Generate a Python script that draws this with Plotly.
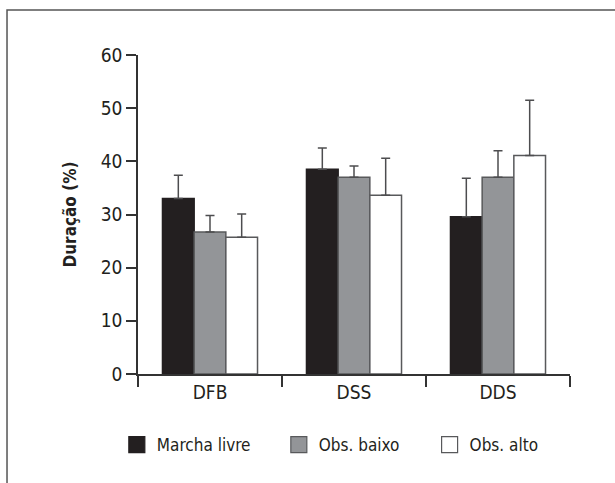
import plotly.graph_objects as go

categories = ["DFB", "DSS", "DDS"]
series_names = ["Marcha livre", "Obs. baixo", "Obs. alto"]
marcha_livre = [33.0, 38.5, 29.6]
obs_baixo = [26.7, 37.0, 37.0]
obs_alto = [25.7, 33.6, 41.1]
err_marcha_livre = [4.4, 4.0, 7.2]
err_obs_baixo = [3.1, 2.1, 5.0]
err_obs_alto = [4.4, 7.0, 10.4]
y_ticks = [0, 10, 20, 30, 40, 50, 60]

FONT = "DejaVu Sans Condensed, sans-serif"
EDGE = "#58595b"
TXT = "#231f20"
fills = ["#231f20", "#939598", "#ffffff"]
values = [marcha_livre, obs_baixo, obs_alto]
errors = [err_marcha_livre, err_obs_baixo, err_obs_alto]
legend_ids = ["legend", "legend2", "legend3"]
legend_x = [-0.049, 0.326, 0.675]

fig = go.Figure()
for name, vals, errs, fill in zip(series_names, values, errors, fills):
    fig.add_trace(go.Bar(
        x=categories, y=vals, name=name, showlegend=False,
        marker=dict(color=fill, line=dict(color=EDGE if fill != TXT else fill, width=1.5)),
        error_y=dict(type="data", array=errs, arrayminus=[0] * len(errs), symmetric=False,
                     color="#4d4d4f", thickness=1.5, width=4.5),
    ))

# legend-only entries (larger square swatches)
for name, fill, lid in zip(series_names, fills, legend_ids):
    fig.add_trace(go.Scatter(
        x=[None], y=[None], mode="markers", name=name, legend=lid, showlegend=True,
        marker=dict(symbol="square", size=16, color=fill,
                    line=dict(color=EDGE if fill != TXT else fill, width=1.2)),
    ))

leg_common = dict(orientation="h", y=-0.2226, yanchor="middle", xanchor="left",
                  font=dict(family=FONT, size=17, color=TXT), itemsizing="trace",
                  bgcolor="rgba(0,0,0,0)", borderwidth=0)

fig.update_layout(
    width=615, height=483,
    margin=dict(l=138, r=45, t=55, b=109),
    paper_bgcolor="white", plot_bgcolor="white",
    barmode="group", bargap=0.34, bargroupgap=0,
    font=dict(family=FONT, size=19, color=TXT),
    legend=dict(x=legend_x[0], **leg_common),
    legend2=dict(x=legend_x[1], **leg_common),
    legend3=dict(x=legend_x[2], **leg_common),
    xaxis=dict(showline=True, linecolor="#333333", linewidth=1.5, ticks="outside",
               tickson="boundaries", ticklen=11, tickwidth=1.5, tickcolor="#333333",
               showgrid=False, tickfont=dict(family=FONT, size=19, color=TXT)),
    yaxis=dict(range=[0, 60], tickvals=y_ticks, showline=True, linecolor="#333333", linewidth=1.5,
               ticks="outside", ticklen=10, tickwidth=1.5, tickcolor="#333333",
               showgrid=False, zeroline=False, tickfont=dict(family=FONT, size=19, color=TXT),
               title=dict(text="<b>Duração (%)</b>", font=dict(family=FONT, size=17, color=TXT),
                          standoff=20)),
    shapes=[dict(type="rect", xref="paper", yref="paper", x0=-0.3032, x1=1.3, y0=-0.6, y1=1.1411,
                 line=dict(color="#555555", width=1.5), layer="below")],
)

fig.write_html("out.html", config={"displayModeBar": False},
               post_script="document.body.style.margin='0';document.body.style.overflow='hidden';")
